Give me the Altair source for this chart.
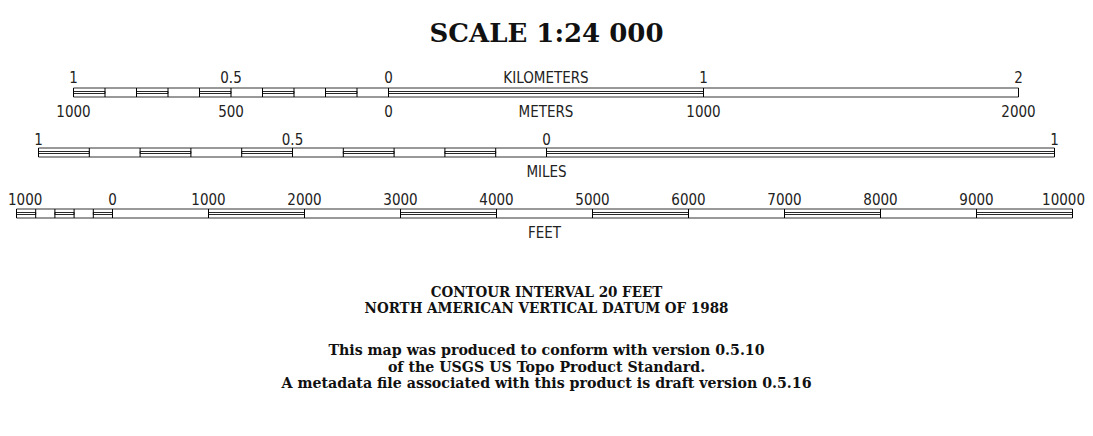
import altair as alt
import pandas as pd

# ---------------- data ----------------
TITLE = "SCALE 1:24 000"

km_bounds = [-1.0, -0.9, -0.8, -0.7, -0.6, -0.5, -0.4, -0.3, -0.2, -0.1, 0.0, 1.0, 2.0]
km_filled = [1, 0, 1, 0, 1, 0, 1, 0, 1, 0, 1, 0]
km_label_vals = [-1.0, -0.5, 0.0, 1.0, 2.0]
km_label_text = ["1", "0.5", "0", "1", "2"]
m_label_vals = [-1000, -500, 0, 1000, 2000]
m_label_text = ["1000", "500", "0", "1000", "2000"]

mi_bounds = [-1.0, -0.9, -0.8, -0.7, -0.6, -0.5, -0.4, -0.3, -0.2, -0.1, 0.0, 1.0]
mi_filled = [1, 0, 1, 0, 1, 0, 1, 0, 1, 0, 1]
mi_label_vals = [-1.0, -0.5, 0.0, 1.0]
mi_label_text = ["1", "0.5", "0", "1"]

ft_bounds = [-1000, -800, -600, -400, -200, 0, 1000, 2000, 3000, 4000, 5000,
             6000, 7000, 8000, 9000, 10000]
ft_filled = [1, 0, 1, 0, 1, 0, 1, 0, 1, 0, 1, 0, 1, 0, 1]
ft_label_vals = [-1000, 0, 1000, 2000, 3000, 4000, 5000, 6000, 7000, 8000, 9000, 10000]
ft_label_text = ["1000", "0", "1000", "2000", "3000", "4000", "5000", "6000",
                 "7000", "8000", "9000", "10000"]

datum_lines = ["CONTOUR INTERVAL 20 FEET", "NORTH AMERICAN VERTICAL DATUM OF 1988"]
note_lines = ["This map was produced to conform with version 0.5.10",
              "of the USGS US Topo Product Standard.",
              "A metadata file associated with this product is draft version 0.5.16"]

# ---------------- style ----------------
W, H = 1077, 420
LABEL_FONT = "Liberation Sans Narrow, DejaVu Sans Condensed, sans-serif"
LABEL_SIZE = 15
LABEL_COLOR = "#222"


def label_layer(vals, texts, sc, y, factor=1.0, align="center", dx=0):
    return alt.Chart(pd.DataFrame({"v": vals, "t": texts})).transform_calculate(
        p=f"datum.v * {factor}"
    ).mark_text(
        font=LABEL_FONT, fontSize=LABEL_SIZE, baseline="alphabetic",
        align=align, dx=dx, color=LABEL_COLOR
    ).encode(x=alt.X("p:Q", scale=sc, axis=None), y=alt.value(y), text="t:N")


def scale_bar(bounds, filled, rng, top, bottom,
              above_vals, above_text, above_y,
              below_vals=None, below_text=None, below_y=None, below_factor=1.0,
              unit_above=None, unit_below=None, unit_below_y=None, fit_edges=False):
    sc = alt.Scale(domain=[bounds[0], bounds[-1]], range=rng, nice=False, zero=False)
    segs = pd.DataFrame({"a": bounds[:-1], "b": bounds[1:], "f": filled})
    outer_df = pd.DataFrame({"a": [bounds[0]], "b": [bounds[-1]]})

    outer = alt.Chart(outer_df).mark_rect(
        fill="white", stroke="#333", strokeWidth=1
    ).encode(
        x=alt.X("a:Q", scale=sc, axis=None), x2="b",
        y=alt.value(top), y2=alt.value(bottom),
    )
    inner = alt.Chart(segs).transform_filter("datum.f == 1").mark_rect(
        fill="white", stroke="#111", strokeWidth=0.9
    ).encode(
        x=alt.X("a:Q", scale=sc, axis=None), x2="b",
        y=alt.value(top + 3.5), y2=alt.value(top + 5.5),
    )
    ticks = alt.Chart(pd.DataFrame({"v": bounds})).mark_rule(
        color="black", strokeWidth=1
    ).encode(
        x=alt.X("v:Q", scale=sc, axis=None),
        y=alt.value(top), y2=alt.value(bottom),
    )
    layers = [outer, inner, ticks]

    if fit_edges:
        # keep the outermost labels inside the drawing area
        layers.append(label_layer(above_vals[:1], above_text[:1], sc, above_y,
                                  align="left", dx=-rng[0]))
        layers.append(label_layer(above_vals[1:-1], above_text[1:-1], sc, above_y))
        layers.append(label_layer(above_vals[-1:], above_text[-1:], sc, above_y,
                                  align="right", dx=W - rng[1]))
    else:
        layers.append(label_layer(above_vals, above_text, sc, above_y))

    mid = (bounds[0] + bounds[-1]) / 2.0
    if unit_above:
        layers.append(label_layer([mid], [unit_above], sc, above_y))
    if below_vals is not None:
        layers.append(label_layer(below_vals, below_text, sc, below_y, factor=below_factor))
    if unit_below:
        layers.append(label_layer([mid], [unit_below], sc, unit_below_y))

    return alt.layer(*layers)


km_bar = scale_bar(km_bounds, km_filled, [65.5, 1010.5], 80, 89,
                   km_label_vals, km_label_text, 75,
                   m_label_vals, m_label_text, 109, 0.001,
                   unit_above="KILOMETERS", unit_below="METERS", unit_below_y=109)

mi_bar = scale_bar(mi_bounds, mi_filled, [30.5, 1046.5], 140, 149,
                   mi_label_vals, mi_label_text, 137,
                   unit_below="MILES", unit_below_y=169)

ft_bar = scale_bar(ft_bounds, ft_filled, [8.5, 1064.5], 201, 210,
                   ft_label_vals, ft_label_text, 197,
                   unit_below="FEET", unit_below_y=230, fit_edges=True)

title = alt.Chart(pd.DataFrame({"t": [TITLE]})).mark_text(
    font="DejaVu Serif", fontSize=26, fontWeight="bold", baseline="alphabetic",
    align="center", color="#111"
).encode(x=alt.value(W / 2), y=alt.value(34), text="t:N")

datum = alt.Chart(pd.DataFrame({"t": ["\n".join(datum_lines)]})).mark_text(
    font="DejaVu Serif Condensed, DejaVu Serif", fontSize=15, fontWeight="bold",
    baseline="alphabetic", align="center", lineBreak="\n", lineHeight=16, color="#111"
).encode(x=alt.value(W / 2), y=alt.value(289), text="t:N")

notes = alt.Chart(pd.DataFrame({"t": ["\n".join(note_lines)]})).mark_text(
    font="DejaVu Serif", fontSize=14.2, fontWeight="bold",
    baseline="alphabetic", align="center", lineBreak="\n", lineHeight=16.5, color="#111"
).encode(x=alt.value(W / 2), y=alt.value(347), text="t:N")

chart = alt.layer(title, km_bar, mi_bar, ft_bar, datum, notes).resolve_scale(
    x="independent"
).properties(
    width=W, height=H, padding=0,
    autosize=alt.AutoSizeParams(type="none"),
    background="white",
).configure_view(stroke=None)

chart.save("out.html", embed_options={"renderer": "svg", "actions": False})
